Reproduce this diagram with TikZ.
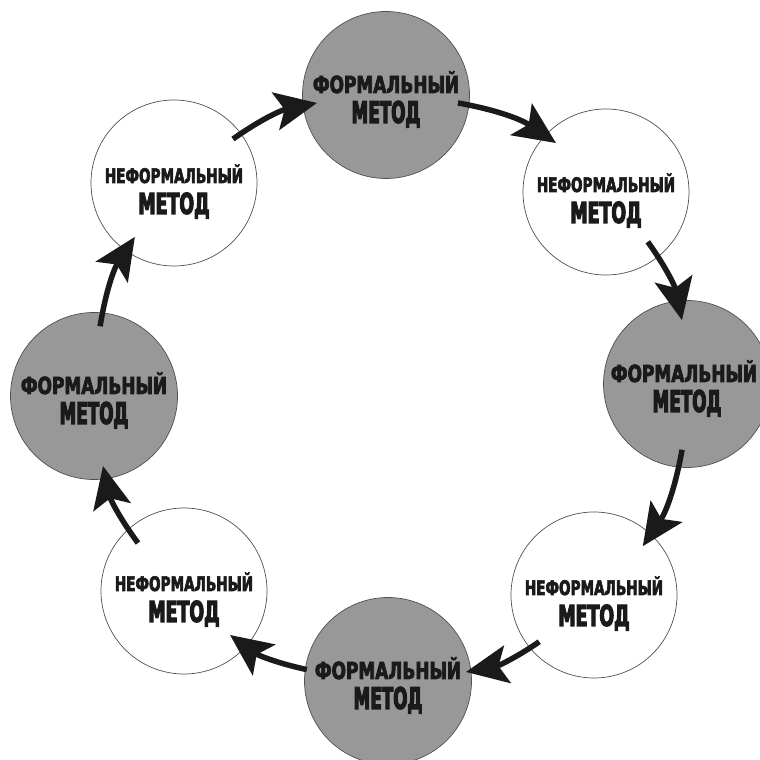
\documentclass[tikz,border=0pt]{standalone}
\usepackage{fontspec}
\usetikzlibrary{arrows.meta,calc}
\setmainfont{DejaVu Sans}
\newfontfamily\wA{DejaVu Sans}[FakeStretch=0.68,FakeBold=3]
\newfontfamily\wB{DejaVu Sans}[FakeStretch=0.60,FakeBold=3.5]
\newfontfamily\gA{DejaVu Sans}[FakeStretch=0.72,FakeBold=3]
\newfontfamily\gB{DejaVu Sans}[FakeStretch=0.56,FakeBold=3.5]
\definecolor{fillg}{RGB}{152,152,152}
\definecolor{ink}{RGB}{26,26,26}
\definecolor{rim}{RGB}{80,80,80}
\begin{document}
\begin{tikzpicture}[x=1pt,y=1pt,
  wcirc/.style={circle,draw=rim,line width=0.7pt,fill=white,minimum size=166pt,inner sep=0pt},
  gcirc/.style={circle,draw=rim,line width=0.7pt,fill=fillg,minimum size=167pt,inner sep=0pt},
  txt/.style={anchor=base,inner sep=0pt,text=ink},
  flow/.style={line width=5.5pt,draw=ink,-{Stealth[length=42pt,width=38pt,inset=9pt]},bend left=12}]
\useasboundingbox (0,0) rectangle (760,760);
\clip (0,0) rectangle (760,760);
% circles
\node[wcirc] (tl) at (174,577) {};
\node[gcirc] (t)  at (386,665) {};
\node[wcirc] (tr) at (606,568) {};
\node[gcirc] (r)  at (687,376) {};
\node[wcirc] (br) at (594,165) {};
\node[gcirc] (b)  at (388,79) {};
\node[wcirc] (bl) at (184,169) {};
\node[gcirc] (l)  at (94,364) {};
% texts
\foreach \c in {tl,tr,br,bl}{
  \node[txt] at ($(\c)+(0,0)$) {\wA\bfseries\fontsize{20}{20}\selectfont НЕФОРМАЛЬНЫЙ};
  \node[txt] at ($(\c)+(0,-31)$) {\wB\bfseries\fontsize{29}{29}\selectfont МЕТОД};
}
\foreach \c/\dx in {t/0,r/-3,b/0,l/0}{
  \node[txt] at ($(\c)+(\dx,2)$) {\gA\bfseries\fontsize{23.5}{23.5}\selectfont ФОРМАЛЬНЫЙ};
  \node[txt] at ($(\c)+(0,-28)$) {\gB\bfseries\fontsize{30}{30}\selectfont МЕТОД};
}
% arrows
\draw[flow] ($(tl)+(36.7:73.6)$) to ($(t)+(186.6:69.5)$);
\draw[flow] ($(t)+(-6.3:72.4)$) to ($(tr)+(135.6:70)$);
\draw[flow] ($(tr)+(-50:65)$) to ($(r)+(94.5:64)$);
\draw[flow] ($(r)+(265.7:66)$) to ($(br)+(45:69)$);
\draw[flow] ($(br)+(220.5:72)$) to ($(b)+(6.6:78.5)$);
\draw[flow] ($(b)+(172:82)$) to ($(bl)+(-43.7:63.7)$);
\draw[flow] ($(bl)+(133.8:66.5)$) to ($(l)+(-82.7:70.6)$);
\draw[flow] ($(l)+(85:70)$) to ($(tl)+(234:66.6)$);
\end{tikzpicture}
\end{document}
